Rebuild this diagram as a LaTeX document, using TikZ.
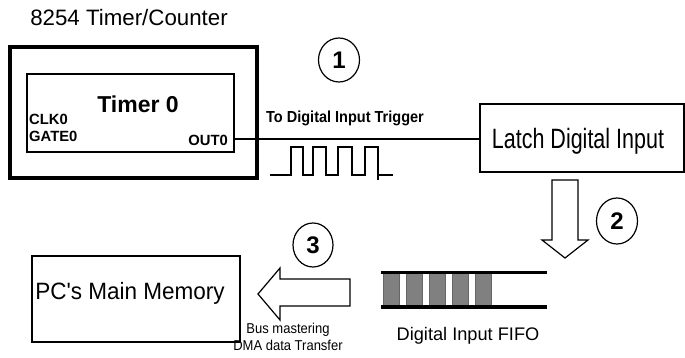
\documentclass[tikz,border=0pt]{standalone}
\usepackage{fontspec}
\usepackage{graphicx}
\setmainfont{Liberation Sans}[Ligatures=TeXOff]
\usetikzlibrary{shapes.geometric}
\begin{document}
\begin{tikzpicture}[x=1pt,y=-1pt,
  box/.style={draw,line width=1.2pt,inner sep=0pt},
  lbl/.style={inner sep=0pt,font=\fontsize{#1}{#1}\selectfont},
  blbl/.style={inner sep=0pt,font=\fontsize{#1}{#1}\selectfont\bfseries},
  numcirc/.style={draw,line width=1.2pt,ellipse,inner sep=0pt,minimum width=41pt,minimum height=44pt,font=\fontsize{24}{24}\selectfont\bfseries},
  fatarrow/.style={draw,line width=1.2pt,fill=white,line join=miter},
  cell/.style={draw=black!60,fill=black!50,line width=0.8pt}]
\useasboundingbox (0,0) rectangle (685,358);
% title
\node[lbl=22.3] (title) at (129,18) {8254 Timer/Counter};
% outer 8254 box
\node[draw,line width=3.5pt,minimum width=247pt,minimum height=131pt,inner sep=0pt] (chip) at (133.5,112.5) {};
% inner timer box
\node[box,minimum width=207pt,minimum height=78pt] (timer) at (130.5,113) {};
\node[blbl=23] (tname) at (138,104) {Timer 0};
\node[blbl=14.8,anchor=west] (clk) at (29,119.5) {CLK0};
\node[blbl=14.8,anchor=west] (gate) at (29,136.5) {GATE0};
\node[blbl=14.8,anchor=east] (out) at (228,140.5) {OUT0};
% latch box
\node[box,minimum width=204pt,minimum height=68pt] (latch) at (582,138) {};
\node[lbl=21.5] (latchtxt) at (578,141) {\scalebox{1}[1.3]{Latch Digital Input}};
% connector OUT0 -> latch
\coordinate (outp) at (timer.east |- 0,139);
\draw[line width=1.2pt] (outp) -- (outp -| latch.west);
\node[blbl=14.5] (trig) at (345,118) {\scalebox{1}[1.1]{To Digital Input Trigger}};
\node[numcirc] (c1) at (339,60) {1};
% pulse train
\draw[line width=1.2pt] (270,175) -- (291,175) -- (291,147) -- (303,147) -- (303,175)
  -- (313,175) -- (313,147) -- (326,147) -- (326,175) -- (338,175) -- (338,147)
  -- (352,147) -- (352,175) -- (365,175) -- (365,147) -- (378,147) -- (378,180)
  (378,175) -- (393,175);
% down arrow (2)
\draw[fatarrow] (552,180) -- (578,180) -- (578,240) -- (588,240) -- (565,258)
  -- (542,240) -- (552,240) -- cycle;
\node[numcirc,minimum height=46pt] (c2) at (617,221) {2};
% FIFO
\coordinate (fifoTL) at (381,272);
\coordinate (fifoBL) at (381,307);
\foreach \x in {383,406,429,452,475}{
  \draw[cell] (\x,273) rectangle ++(16,33);
}
\draw[line width=3pt] (fifoTL) -- ++(166,0);
\draw[line width=4pt] (fifoBL) -- ++(166,0);
\node[lbl=18.2] (fifotxt) at (468,336) {Digital Input FIFO};
% PC memory
\node[box,minimum width=208pt,minimum height=86pt] (pc) at (136,299) {};
\node[lbl=22.5] (pctxt) at (130,293) {\scalebox{1}[1.05]{PC's Main Memory}};
% left arrow (3)
\draw[fatarrow] (350,279) -- (280,279) -- (280,268) -- (258,294) -- (280,320)
  -- (280,306) -- (350,306) -- cycle;
\node[numcirc,minimum width=40pt] (c3) at (313,245) {3};
\node[lbl=13] (bus) at (288,330) {\scalebox{1}[1.1]{Bus mastering}};
\node[lbl=13] (dma) at (288,345) {\scalebox{1}[1.1]{DMA data Transfer}};
\end{tikzpicture}
\end{document}
